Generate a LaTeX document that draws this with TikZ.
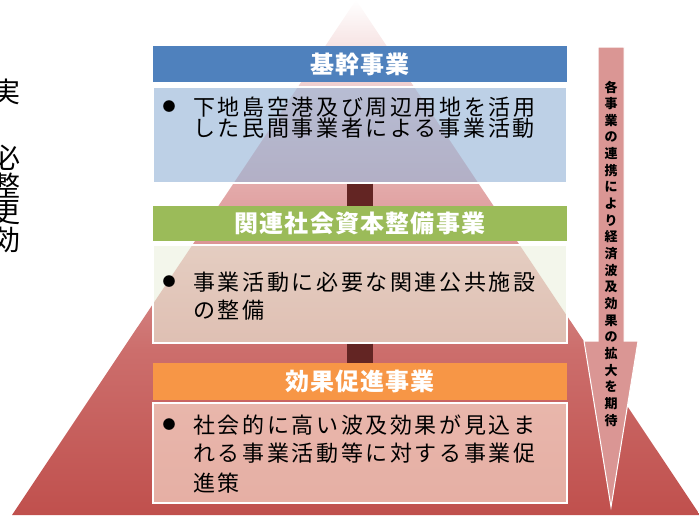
\documentclass[tikz,border=0pt]{standalone}
\usepackage{fontspec}
\newfontfamily\jp{Noto Sans CJK JP}
\newfontfamily\jpls[LetterSpace=12]{Noto Sans CJK JP}
\newfontfamily\jphd[LetterSpace=5]{Noto Sans CJK JP}
\definecolor{hdrblue}{HTML}{4F81BD}
\definecolor{hdrgreen}{HTML}{9BBB59}
\definecolor{hdrorange}{HTML}{F79646}
\definecolor{boxblue}{HTML}{95B3D7}
\definecolor{boxgreen}{HTML}{EBF1DE}
\definecolor{boxorange}{HTML}{FDE9D9}
\definecolor{linkred}{HTML}{632523}
\definecolor{arrowpink}{HTML}{DA9694}
\definecolor{pyrB}{HTML}{C0504D}
\definecolor{pyr3}{HTML}{CC6E6C}
\definecolor{pyr2}{HTML}{E2A6A6}
\definecolor{pyr1}{HTML}{F2D4D4}
\definecolor{pyrT}{HTML}{FFFFFF}
\pgfdeclareverticalshading{pyrshade}{100bp}{color(0bp)=(pyrB); color(25bp)=(pyrB); color(41bp)=(pyr3); color(56bp)=(pyr2); color(68bp)=(pyr1); color(75bp)=(pyrT); color(100bp)=(pyrT)}
\begin{document}
\begin{tikzpicture}[x=1pt,y=-1pt,
  hdr/.style={rectangle, minimum width=414pt, inner sep=0pt, text=white,
    font=\jphd\bfseries\fontsize{24}{28}\selectfont},
  cbox/.style={rectangle, minimum width=414pt, draw=white, line width=1.2pt,
    fill opacity=0.62, inner sep=0pt},
  bodytxt/.style={anchor=west, inner sep=0pt, font=\jpls\fontsize{22}{26}\selectfont},
  bulletmark/.style={inner sep=0pt, font=\jp\fontsize{13}{15}\selectfont},
  link/.style={draw=linkred, line width=26pt},
  leftch/.style={inner sep=0pt, font=\jp\fontsize{28}{30}\selectfont},
  arrowtxt/.style={inner sep=0pt, align=center, font=\jp\bfseries\fontsize{13}{16.65}\selectfont}]
\useasboundingbox (0,0) rectangle (699,515);
\clip (0,0) rectangle (699,515);
% pyramid
\shade[shading=pyrshade] (356,0) -- (12,515) -- (700,515) -- cycle;
% left cut-off text
\node[leftch] (k1) at (7,92) {実};
\node[leftch] (k2) at (7,158) {必};
\node[leftch] (k3) at (7,186) {整};
\node[leftch] (k4) at (7,213) {更};
\node[leftch] (k5) at (7,240) {効};
% boxes
\node[hdr, fill=hdrblue, minimum height=36pt] (h1) at (360,64) {基幹事業};
\node[cbox, fill=boxblue, minimum height=96pt] (c1) at (360,135) {};
\node[hdr, fill=hdrgreen, minimum height=35pt] (h2) at (360,223.5) {関連社会資本整備事業};
\node[cbox, fill=boxgreen, minimum height=98pt] (c2) at (360,294) {};
\node[hdr, fill=hdrorange, minimum height=37pt] (h3) at (360,381.5) {効果促進事業};
\node[cbox, fill=boxorange, minimum height=100pt] (c3) at (360,453) {};
% links
\draw[link] (c1.south) -- (h2.north);
\draw[link] (c2.south) -- (h3.north);
% texts
\node[bulletmark] (b1) at (169,107) {●};
\node[bodytxt] (t11) at (193,107) {下地島空港及び周辺用地を活用};
\node[bodytxt] (t12) at (193,128) {した民間事業者による事業活動};
\node[bulletmark] (b2) at (169,282) {●};
\node[bodytxt] (t21) at (193,282) {事業活動に必要な関連公共施設};
\node[bodytxt] (t22) at (193,310) {の整備};
\node[bulletmark] (b3) at (169,425) {●};
\node[bodytxt] (t31) at (193,425) {社会的に高い波及効果が見込ま};
\node[bodytxt] (t32) at (193,453) {れる事業活動等に対する事業促};
\node[bodytxt] (t33) at (193,483) {進策};
% arrow
\draw[draw=white, line width=1pt, fill=arrowpink]
  (598,47) -- (624,47) -- (624,341) -- (638,341) -- (611,507) -- (584,341) -- (598,341) -- cycle;
\node[arrowtxt] (at) at (611,253.5) {各\\事\\業\\の\\連\\携\\に\\よ\\り\\経\\済\\波\\及\\効\\果\\の\\拡\\大\\を\\期\\待};
\end{tikzpicture}
\end{document}
